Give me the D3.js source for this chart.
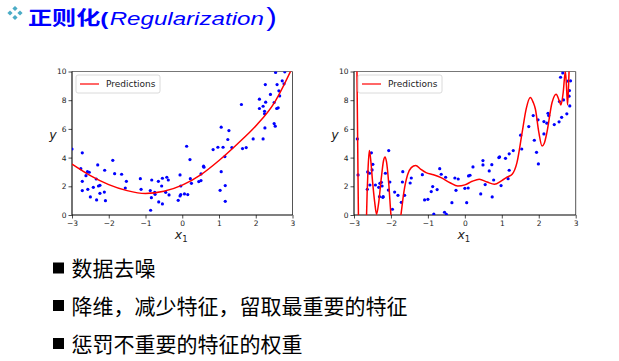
<!DOCTYPE html>
<html><head><meta charset="utf-8">
<script src="https://cdn.jsdelivr.net/npm/d3@7"></script>
<style>body{margin:0;background:#fff;}svg{display:block;}</style>
</head><body>
<svg id="c" width="619" height="361"></svg>
<script>
// ---------- DATA ----------
const titleCN = "正则化";
const titleEN = "Regularization";
const bullets = ["数据去噪", "降维，减少特征，留取最重要的特征", "惩罚不重要的特征的权重"];
const xTicks = [-3, -2, -1, 0, 1, 2, 3];
const yTicks = [0, 2, 4, 6, 8, 10];
const legendLabel = "Predictions";

// left panel scatter (x, y)
const leftX = [-3.0,-2.72,-2.76,-2.72,-2.72,-2.62,-2.58,-2.53,-2.57,-2.5,-2.42,-2.34,-2.3,-2.33,-2.28,-2.24,-2.24,-2.11,-2.12,-2.09,-1.89,-1.84,-1.65,-1.52,-1.55,-1.14,-1.12,-0.87,-0.83,-0.84,-0.86,-0.75,-0.74,-0.65,-0.64,-0.56,-0.54,-0.54,-0.45,-0.42,-0.38,-0.36,-0.11,-0.06,-0.06,-0.04,-0.04,0.06,0.12,0.15,0.21,0.22,0.25,0.45,0.51,0.51,0.58,0.59,0.84,0.97,1.03,1.06,1.06,1.11,1.17,1.17,1.16,1.24,1.27,1.35,1.61,1.64,1.74,1.93,2.1,2.1,2.2,2.2,2.24,2.24,2.26,2.27,2.25,2.4,2.5,2.5,2.53,2.54,2.57,2.58,2.61,2.63,2.65,2.72,2.77,2.79];
const leftY = [4.6,4.33,3.23,2.35,1.7,2.74,3.02,2.98,1.79,1.26,1.93,2.51,3.49,1.05,2.02,2.07,1.51,3.12,1.6,1.0,3.81,2.88,2.84,2.35,1.88,2.53,1.79,1.7,2.44,1.21,0.33,1.58,1.44,2.35,0.91,2.02,2.56,0.77,1.58,2.63,2.44,1.4,1.02,2.79,1.33,1.42,2.02,1.47,4.79,1.42,3.86,2.53,2.21,2.33,2.86,2.4,3.4,3.33,4.56,4.72,1.72,6.12,3.02,4.72,2.05,0.95,4.07,5.26,5.88,4.7,7.7,4.63,4.7,5.3,7.42,8.07,5.3,7.58,7.05,7.23,9.09,7.86,6.07,8.4,6.37,7.84,6.19,9.93,7.42,9.09,7.47,8.65,8.3,9.35,9.14,9.98];
// left panel prediction curve
const leftPredX = [-3.0,-2.5,-2.0,-1.5,-1.0,-0.5,0.0,0.5,1.0,1.5,2.0,2.5,3.0];
const leftPredY = [3.55,2.75,2.12,1.7,1.5,1.65,2.08,2.8,3.8,4.95,6.2,7.8,10.3];

// right panel scatter (x, y)
const rightX = [-2.91,-2.89,-2.64,-2.63,-2.58,-2.57,-2.53,-2.51,-2.49,-2.42,-2.33,-2.31,-2.3,-2.26,-2.24,-2.22,-2.21,-2.15,-2.07,-2.06,-2.03,-1.96,-1.9,-1.81,-1.72,-1.69,-1.68,-1.63,-1.48,-1.45,-1.15,-1.09,-1.0,-0.91,-0.87,-0.84,-0.75,-0.68,-0.64,-0.55,-0.52,-0.5,-0.35,-0.27,-0.24,-0.18,0.0,0.05,0.09,0.1,0.14,0.22,0.43,0.49,0.49,0.55,0.66,0.73,0.74,0.78,0.92,0.94,0.98,1.1,1.17,1.2,1.2,1.31,1.51,1.54,1.73,1.85,1.88,1.94,1.98,1.99,2.14,2.14,2.22,2.25,2.27,2.42,2.55,2.56,2.59,2.62,2.65,2.67,2.76,2.79,2.82,2.83,2.84,2.86];
const rightY = [5.3,2.79,1.79,3.0,2.91,2.09,4.33,3.14,3.53,2.09,1.93,1.28,2.21,2.28,2.02,1.23,1.28,2.91,1.74,4.49,2.3,0.4,1.6,1.37,0.88,2.3,3.02,1.37,2.23,2.58,2.81,1.05,1.09,1.63,1.98,0.07,1.77,3.23,2.84,0.19,2.63,0.05,0.86,2.58,1.72,2.51,1.86,0.86,1.88,2.72,2.77,3.35,1.47,3.79,3.49,2.12,3.07,3.51,1.26,2.44,4.0,4.05,2.05,3.95,2.53,4.26,3.12,4.49,5.56,4.6,6.16,6.93,5.21,4.37,6.63,3.56,6.51,5.65,6.4,7.09,6.93,6.3,6.49,7.91,9.6,6.81,9.9,8.02,7.05,9.33,8.28,8.67,7.6,9.35];
// right panel prediction curve (overfitted high-degree polynomial)
const rightPredX = [-2.97,-2.92,-2.88,-2.84,-2.75,-2.68,-2.66,-2.62,-2.585,-2.55,-2.5,-2.44,-2.39,-2.33,-2.26,-2.2,-2.16,-2.12,-2.06,-2.0,-1.93,-1.85,-1.78,-1.73,-1.65,-1.55,-1.45,-1.33,-1.2,-1.05,-0.85,-0.645,-0.4,-0.19,0.0,0.2,0.39,0.6,0.8,1.0,1.15,1.28,1.41,1.55,1.66,1.77,1.85,1.91,2.0,2.09,2.15,2.22,2.36,2.47,2.55,2.6,2.66,2.72,2.75,2.78,2.82,2.86,2.95];
const rightPredY = [30,10,0,-8,-12,-3,0,3.2,4.5,3.9,2.4,0.9,0.05,0.9,2.6,3.8,4.05,3.7,2.2,0,-1.6,-2,-1,0,1.6,2.8,3.3,3.45,3.2,2.95,2.8,2.6,2.25,2.02,2.1,2.35,2.49,2.3,2.14,2.4,2.65,2.84,3.65,5.74,7.4,8.19,7.85,7.37,5.8,4.81,5.0,5.74,7.84,8.42,8.0,7.66,8.5,10.0,9.0,7.66,10.0,14,30];

// ---------- DRAW ----------
const svg = d3.select("#c");

// Title
const icon = svg.append("g").attr("fill", "#4bacc6");
[[15,8.5],[10,13],[20,13],[15,17.5]].forEach(([cx,cy]) => {
  icon.append("path").attr("d", `M${cx},${cy-2.6}L${cx+2.6},${cy}L${cx},${cy+2.6}L${cx-2.6},${cy}Z`);
});
const tt = svg.append("text").attr("transform", "translate(28,25) scale(1.27,1)")
  .attr("fill", "#0000ff").style("font-size", "19px");
tt.append("tspan").attr("font-family", "'Noto Sans CJK SC', sans-serif").attr("font-weight", "bold").text(titleCN);
tt.append("tspan").attr("font-family", "'Liberation Sans', Arial, sans-serif").attr("font-weight", "bold").text("(");
tt.append("tspan").attr("font-family", "'Liberation Sans', Arial, sans-serif").attr("font-style", "italic").attr("dx", 1).text(titleEN);
tt.append("tspan").attr("font-family", "'Liberation Sans', Arial, sans-serif").style("font-size", "25px").attr("dx", 2).attr("dy", 1).text(")");

// Panels
function panel(x0, x1, xs, ys, px, py, clipId) {
  const x = d3.scaleLinear().domain([-3, 3]).range([x0, x1]);
  const y = d3.scaleLinear().domain([0, 10]).range([215, 71.5]);
  const g = svg.append("g");
  g.append("clipPath").attr("id", clipId).append("rect")
    .attr("x", x0).attr("y", 71.5).attr("width", x1 - x0).attr("height", 215 - 71.5);

  const ax = g.append("g").attr("transform", "translate(0,215)")
    .call(d3.axisBottom(x).tickValues(xTicks).tickSize(3.5).tickSizeOuter(0).tickPadding(2).tickFormat(d => d < 0 ? "−" + Math.abs(d) : d));
  const ay = g.append("g").attr("transform", `translate(${x0},0)`)
    .call(d3.axisLeft(y).tickValues(yTicks).tickSize(3.5).tickSizeOuter(0).tickPadding(2));
  [ax, ay].forEach(a => {
    a.select(".domain").remove();
    a.selectAll("text").attr("font-family", "'DejaVu Sans', sans-serif").style("font-size", "7.5px").attr("fill", "#222");
    a.selectAll("line").attr("stroke", "#222").attr("stroke-width", 0.8);
  });

  // spines
  g.append("line").attr("x1", x0).attr("x2", x1).attr("y1", 71.5).attr("y2", 71.5).attr("stroke", "#777").attr("stroke-width", 1);
  g.append("line").attr("x1", x1).attr("x2", x1).attr("y1", 71.5).attr("y2", 215).attr("stroke", "#555").attr("stroke-width", 1);
  g.append("line").attr("x1", x0).attr("x2", x0).attr("y1", 71.5).attr("y2", 215).attr("stroke", "#000").attr("stroke-width", 1.1);
  g.append("line").attr("x1", x0).attr("x2", x1).attr("y1", 215).attr("y2", 215).attr("stroke", "#000").attr("stroke-width", 1.1);

  // points
  g.append("g").attr("clip-path", `url(#${clipId})`).selectAll("circle")
    .data(xs.map((v, i) => [v, ys[i]])).join("circle")
    .attr("cx", d => x(d[0])).attr("cy", d => y(d[1])).attr("r", 1.6).attr("fill", "#0000ff");

  // prediction
  const line = d3.line().x(d => x(d[0])).y(d => y(d[1])).curve(d3.curveMonotoneX);
  g.append("path").attr("clip-path", `url(#${clipId})`)
    .attr("d", line(px.map((v, i) => [v, py[i]])))
    .attr("fill", "none").attr("stroke", "#ff0000").attr("stroke-width", 1.5);

  // legend
  const lg = g.append("g").attr("transform", `translate(${x0 + 4},75)`);
  lg.append("rect").attr("x", 0).attr("y", 0).attr("width", 84).attr("height", 18).attr("rx", 2)
    .attr("fill", "#fff").attr("fill-opacity", 0.85).attr("stroke", "#d0d0d0").attr("stroke-width", 0.8);
  lg.append("line").attr("x1", 4).attr("x2", 23).attr("y1", 9).attr("y2", 9).attr("stroke", "#ff0000").attr("stroke-width", 1.2);
  lg.append("text").attr("x", 30).attr("y", 12.3).attr("font-family", "'DejaVu Sans', sans-serif")
    .style("font-size", "9px").attr("fill", "#222").text(legendLabel);

  // axis labels
  g.append("text").attr("x", x0 - 19).attr("y", 139).attr("text-anchor", "middle")
    .attr("font-family", "'DejaVu Sans', sans-serif").attr("font-style", "italic").style("font-size", "12.5px").attr("fill", "#222").text("y");
  const xl = g.append("text").attr("x", (x0 + x1) / 2 - 1).attr("y", 239).attr("text-anchor", "middle")
    .attr("font-family", "'DejaVu Sans', sans-serif").style("font-size", "12.5px").attr("fill", "#222");
  xl.append("tspan").attr("font-style", "italic").text("x");
  xl.append("tspan").attr("dy", 3).style("font-size", "8.5px").text("1");
}

panel(72, 292.5, leftX, leftY, leftPredX, leftPredY, "clipL");
panel(354, 575.7, rightX, rightY, rightPredX, rightPredY, "clipR");

// Bullets
const baselines = [276, 313.5, 351.5];
bullets.forEach((t, i) => {
  svg.append("rect").attr("x", 53).attr("y", baselines[i] - 13.5).attr("width", 11).attr("height", 11).attr("fill", "#000");
  svg.append("text").attr("x", 71.5).attr("y", baselines[i])
    .attr("font-family", "'Noto Sans CJK SC', sans-serif").style("font-size", "21px").attr("fill", "#000").text(t);
});
</script>
</body></html>
